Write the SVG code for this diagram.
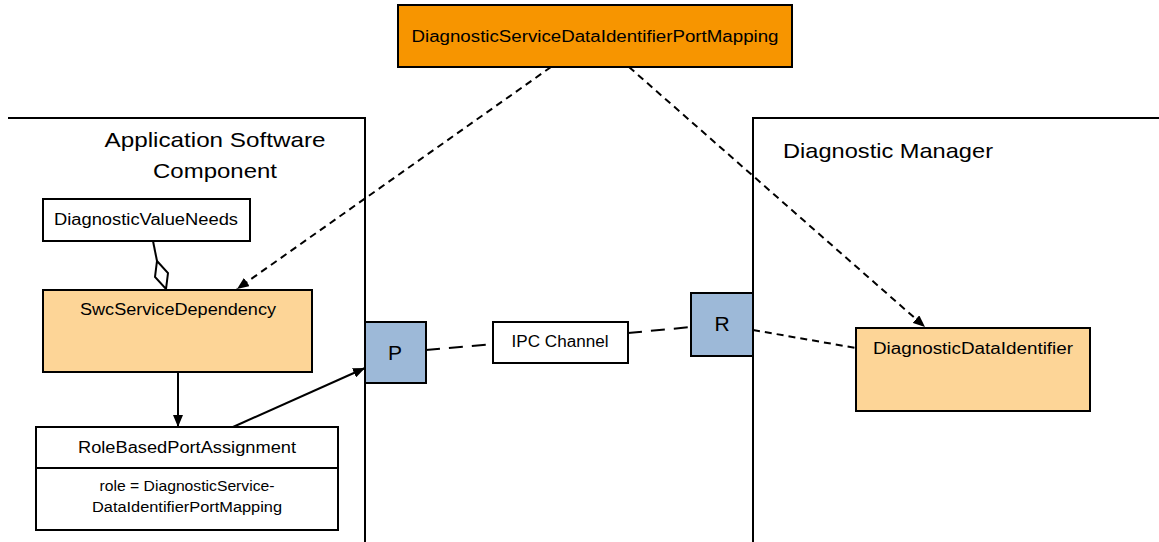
<svg xmlns="http://www.w3.org/2000/svg" width="1159" height="542" viewBox="0 0 1159 542">
<style>
text{font-family:"Liberation Sans",Arial,sans-serif;fill:#000}
.box{stroke:#000;stroke-width:2}
.frame{fill:none;stroke:#000;stroke-width:2}
.solid{fill:none;stroke:#000;stroke-width:2}
.dash{fill:none;stroke:#000;stroke-width:2;stroke-dasharray:7 5}
.ldash{fill:none;stroke:#000;stroke-width:2;stroke-dasharray:14 9}
.t16{font-size:16px}
.t14{font-size:14px}
.t21{font-size:21px}
</style>
<defs>
<marker id="arr" viewBox="0 0 12 10" refX="12" refY="5" markerWidth="12" markerHeight="10" markerUnits="userSpaceOnUse" orient="auto">
<path d="M0,0 L12,5 L0,10 Z" fill="#000"/>
</marker>
</defs>
<rect width="1159" height="542" fill="#fff"/>
<g id="app-component">
<path class="frame" d="M8,118 H365 V542"/>
<text class="t21" x="215" y="147" text-anchor="middle" textLength="221" lengthAdjust="spacingAndGlyphs">Application Software</text>
<text class="t21" x="215" y="178" text-anchor="middle" textLength="124" lengthAdjust="spacingAndGlyphs">Component</text>
</g>
<g id="diagnostic-manager">
<path class="frame" d="M1159,118 H753 V542"/>
<text class="t21" x="783" y="158" textLength="210" lengthAdjust="spacingAndGlyphs">Diagnostic Manager</text>
</g>
<g id="connectors">
<line class="dash" x1="551" y1="67" x2="237" y2="289" marker-end="url(#arr)"/>
<line class="dash" x1="629" y1="67" x2="925" y2="327" marker-end="url(#arr)"/>
<path class="solid" d="M153,241 L157,261"/>
<path class="box" fill="#fff" d="M157,261 L168,273 L166,289 L155,277 Z"/>
<line class="solid" x1="178" y1="372" x2="178" y2="427" marker-end="url(#arr)"/>
<line class="solid" x1="233" y1="427" x2="365" y2="368" marker-end="url(#arr)"/>
<line class="ldash" x1="426" y1="350" x2="493" y2="344"/>
<line class="ldash" x1="628" y1="333" x2="691" y2="327"/>
<line class="dash" x1="753" y1="330" x2="856" y2="348"/>
</g>
<g id="port-mapping">
<rect class="box" x="398" y="5" width="394" height="62" fill="#F79500"/>
<text class="t16" x="595" y="42" text-anchor="middle" textLength="367" lengthAdjust="spacingAndGlyphs">DiagnosticServiceDataIdentifierPortMapping</text>
</g>
<g id="diagnostic-value-needs">
<rect class="box" x="43" y="199" width="207" height="42" fill="#fff"/>
<text class="t16" x="146" y="225" text-anchor="middle" textLength="184" lengthAdjust="spacingAndGlyphs">DiagnosticValueNeeds</text>
</g>
<g id="swc-service-dependency">
<rect class="box" x="43" y="290" width="269" height="82" fill="#FDD597"/>
<text class="t16" x="178" y="315" text-anchor="middle" textLength="196" lengthAdjust="spacingAndGlyphs">SwcServiceDependency</text>
</g>
<g id="role-based-port-assignment">
<rect class="box" x="36" y="427" width="302" height="103" fill="#fff"/>
<line class="solid" x1="36" y1="468" x2="338" y2="468"/>
<text class="t16" x="187" y="453" text-anchor="middle" textLength="218" lengthAdjust="spacingAndGlyphs">RoleBasedPortAssignment</text>
<text class="t14" x="187" y="491" text-anchor="middle" textLength="175" lengthAdjust="spacingAndGlyphs">role = DiagnosticService-</text>
<text class="t14" x="187" y="512" text-anchor="middle" textLength="190" lengthAdjust="spacingAndGlyphs">DataIdentifierPortMapping</text>
</g>
<g id="port-p">
<rect class="box" x="365" y="322" width="61" height="61" fill="#9DB9D8"/>
<text class="t21" x="395" y="360" text-anchor="middle">P</text>
</g>
<g id="ipc-channel">
<rect class="box" x="493" y="322" width="135" height="41" fill="#fff"/>
<text class="t16" x="560" y="347" text-anchor="middle" textLength="97" lengthAdjust="spacingAndGlyphs">IPC Channel</text>
</g>
<g id="port-r">
<rect class="box" x="691" y="293" width="62" height="63" fill="#9DB9D8"/>
<text class="t21" x="722" y="331" text-anchor="middle">R</text>
</g>
<g id="diagnostic-data-identifier">
<rect class="box" x="856" y="328" width="234" height="83" fill="#FDD597"/>
<text class="t16" x="973" y="354" text-anchor="middle" textLength="200" lengthAdjust="spacingAndGlyphs">DiagnosticDataIdentifier</text>
</g>
</svg>
